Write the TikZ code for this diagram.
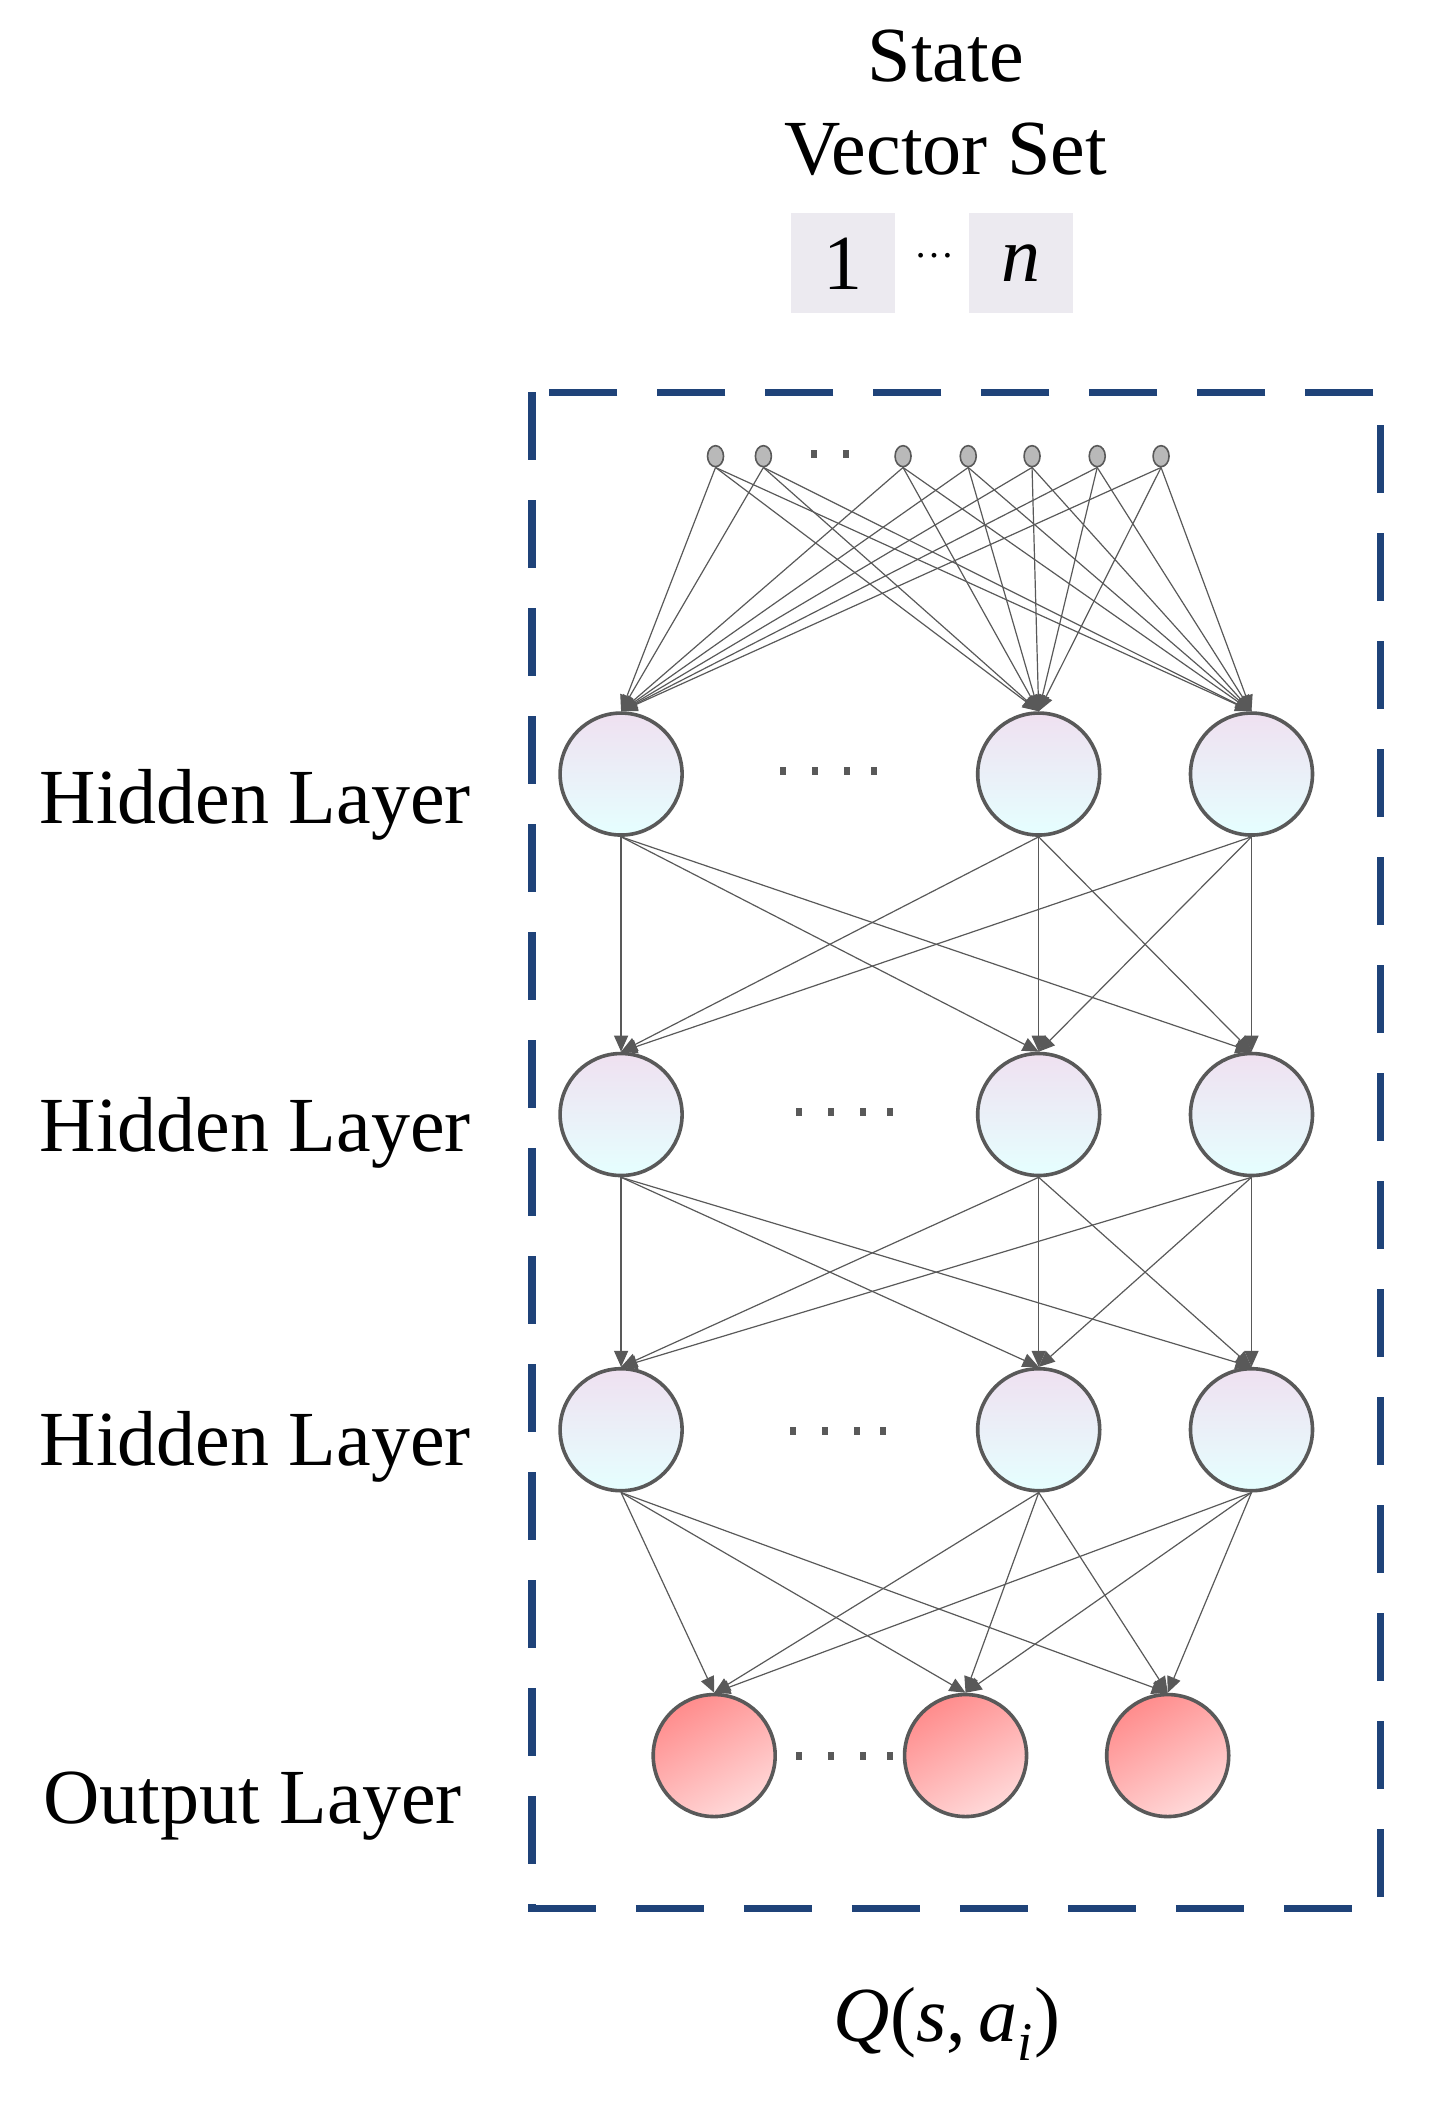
\documentclass[tikz,border=0pt]{standalone}
\usepackage{fontspec}
\setmainfont{Liberation Serif}
\usetikzlibrary{arrows.meta,shapes.geometric}
\definecolor{edge}{HTML}{595959}
\definecolor{frame}{HTML}{1F4379}
\definecolor{boxc}{HTML}{ECEAF0}
\begin{document}
\begin{tikzpicture}[x=0.665pt,y=-0.665pt,
  lab/.style={font=\fontsize{39}{44}\selectfont},
  inp/.style={ellipse,draw=edge,fill=gray!55,line width=0.8pt,minimum width=8pt,minimum height=10.5pt,inner sep=0pt},
  hid/.style={circle,draw=edge,line width=1.8pt,minimum size=61pt,inner sep=0pt,top color=blue!4!violet!12,bottom color=cyan!10},
  outn/.style={circle,draw=edge,line width=1.8pt,minimum size=61pt,inner sep=0pt,shading=axis,top color=red!45,bottom color=red!15,shading angle=30},
  con/.style={draw=edge,line width=0.6pt,-{Triangle[length=8pt,width=7pt]}},
  sq/.style={fill=edge,minimum width=3pt,minimum height=4pt,inner sep=0pt},
  vbox/.style={fill=boxc,minimum width=52pt,minimum height=50pt,inner sep=0pt}]
\useasboundingbox (0,0) rectangle (1080,1582);
\node[lab] (st) at (711,42) {State};
\node[lab] (vs) at (711,112) {Vector Set};
\node[vbox,lab] (b1) at (634,198) {1};
\node[vbox,lab] (bn) at (768,198) {\textit{n}};
\node[font=\fontsize{20}{20}\selectfont] (bd) at (703,192) {\dots};
\draw[frame,line width=3.6pt,dash pattern=on 34pt off 20pt] (400,295) rectangle (1038,1435);
\foreach \i/\x in {1/538,2/574,3/679,4/728,5/776,6/825,7/873}{\node[inp] (i\i) at (\x,343) {};}
\foreach \x in {612,636}{\node[sq] (id\x) at (\x,341) {};}
\foreach \x in {589,613,637,657}{\node[sq] (da\x) at (\x,580) {};}
\foreach \x in {601,625,649,669}{\node[sq] (db\x) at (\x,836) {};}
\foreach \x in {596,620,644,664}{\node[sq] (dc\x) at (\x,1076) {};}
\foreach \x in {601,625,649,669}{\node[sq] (dd\x) at (\x,1320) {};}
\foreach \r/\y in {1/582,2/838,3/1075}{
  \node[hid] (h\r a) at (467,\y) {};
  \node[hid] (h\r b) at (781,\y) {};
  \node[hid] (h\r c) at (941,\y) {};
}
\node[outn] (oa) at (537,1320) {};
\node[outn] (ob) at (726,1320) {};
\node[outn] (oc) at (878,1320) {};
\foreach \i in {1,...,7}{\foreach \t in {a,b,c}{\draw[con] (i\i.south) -- (h1\t.north);}}
\foreach \s in {a,b,c}{\foreach \t in {a,b,c}{
  \draw[con] (h1\s.south) -- (h2\t.north);
  \draw[con] (h2\s.south) -- (h3\t.north);}}
\foreach \s in {a,b,c}{\foreach \t in {a,b,c}{\draw[con] (h3\s.south) -- (o\t.north);}}
\node[lab] (l1) at (192,605) {Hidden Layer};
\node[lab] (l2) at (192,852) {Hidden Layer};
\node[lab] (l3) at (192,1088) {Hidden Layer};
\node[lab] (l4) at (190,1358) {Output Layer};
\node[lab] (q) at (712,1522) {\textit{Q}(\textit{s},\,\textit{a}\textsubscript{\textit{i}})};
\end{tikzpicture}
\end{document}
